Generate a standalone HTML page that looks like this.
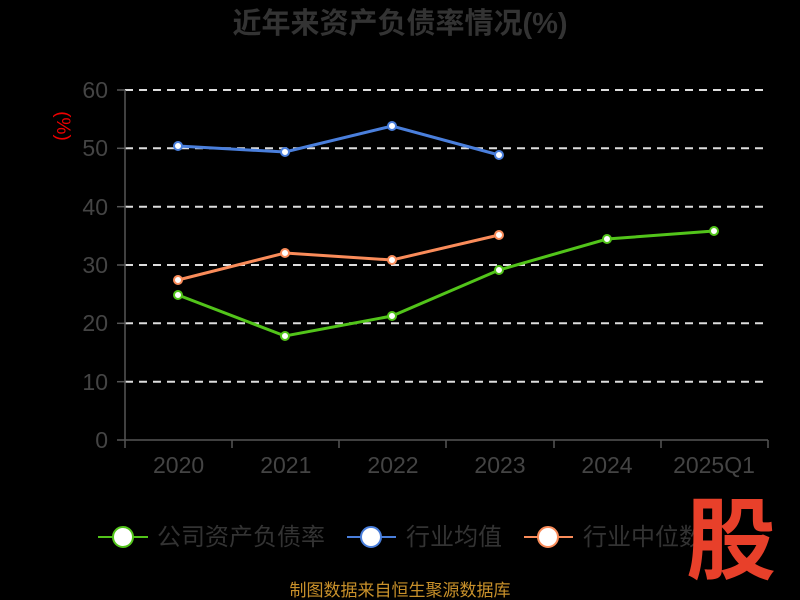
<!DOCTYPE html>
<html><head><meta charset="utf-8"><style>
html,body{margin:0;padding:0;background:#000;width:800px;height:600px;overflow:hidden}
svg{display:block}
text{font-family:"Liberation Sans","Noto Sans CJK SC",sans-serif}
</style></head><body>
<svg width="800" height="600" viewBox="0 0 800 600">
<text x="400" y="33" text-anchor="middle" font-size="29" font-weight="bold" fill="#333">近年来资产负债率情况(%)</text>
<text transform="translate(57,126) rotate(90)" text-anchor="middle" font-size="19" fill="#e00">(%)</text>
<g stroke="#ddd" stroke-width="2" stroke-dasharray="8,6">
<line x1="125" y1="90" x2="768" y2="90"/><line x1="125" y1="148.3" x2="768" y2="148.3"/>
<line x1="125" y1="206.7" x2="768" y2="206.7"/><line x1="125" y1="265" x2="768" y2="265"/>
<line x1="125" y1="323.3" x2="768" y2="323.3"/><line x1="125" y1="381.7" x2="768" y2="381.7"/>
</g>
<g stroke="#555" stroke-width="1.5">
<line x1="125" y1="90" x2="125" y2="440"/><line x1="125" y1="440" x2="768" y2="440"/>
<line x1="117" y1="90" x2="125" y2="90"/><line x1="117" y1="148.3" x2="125" y2="148.3"/><line x1="117" y1="206.7" x2="125" y2="206.7"/><line x1="117" y1="265" x2="125" y2="265"/><line x1="117" y1="323.3" x2="125" y2="323.3"/><line x1="117" y1="381.7" x2="125" y2="381.7"/><line x1="117" y1="440" x2="125" y2="440"/>
<line x1="125" y1="440" x2="125" y2="448"/><line x1="232" y1="440" x2="232" y2="448"/><line x1="339" y1="440" x2="339" y2="448"/><line x1="446" y1="440" x2="446" y2="448"/><line x1="554" y1="440" x2="554" y2="448"/><line x1="661" y1="440" x2="661" y2="448"/><line x1="768" y1="440" x2="768" y2="448"/>
</g>
<g font-size="23" fill="#444" text-anchor="end">
<text x="108" y="98">60</text><text x="108" y="156">50</text><text x="108" y="215">40</text><text x="108" y="273">30</text><text x="108" y="331">20</text><text x="108" y="390">10</text><text x="108" y="448">0</text>
</g>
<g font-size="23" fill="#444" text-anchor="middle">
<text x="178.6" y="473">2020</text><text x="285.8" y="473">2021</text><text x="393" y="473">2022</text><text x="500" y="473">2023</text><text x="607" y="473">2024</text><text x="714" y="473">2025Q1</text>
</g>
<polyline fill="none" stroke="#4a7fdc" stroke-width="3" points="178,146 285,152 392,126 499,155"/>
<polyline fill="none" stroke="#fa8c5a" stroke-width="3" points="178,280 285,253 392,260 499,235"/>
<polyline fill="none" stroke="#52c41a" stroke-width="3" points="178,295 285,336 392,316 499,270 607,239 714,231"/>
<g fill="#fff" stroke-width="2">
<g stroke="#4a7fdc"><circle cx="178" cy="146" r="4"/><circle cx="285" cy="152" r="4"/><circle cx="392" cy="126" r="4"/><circle cx="499" cy="155" r="4"/></g>
<g stroke="#fa8c5a"><circle cx="178" cy="280" r="4"/><circle cx="285" cy="253" r="4"/><circle cx="392" cy="260" r="4"/><circle cx="499" cy="235" r="4"/></g>
<g stroke="#52c41a"><circle cx="178" cy="295" r="4"/><circle cx="285" cy="336" r="4"/><circle cx="392" cy="316" r="4"/><circle cx="499" cy="270" r="4"/><circle cx="607" cy="239" r="4"/><circle cx="714" cy="231" r="4"/></g>
</g>
<g stroke-width="2">
<line x1="98" y1="537" x2="148" y2="537" stroke="#52c41a"/><circle cx="123" cy="537" r="10" fill="#fff" stroke="#52c41a"/>
<line x1="347" y1="537" x2="396" y2="537" stroke="#4a7fdc"/><circle cx="371" cy="537" r="10" fill="#fff" stroke="#4a7fdc"/>
<line x1="524" y1="537" x2="573" y2="537" stroke="#fa8c5a"/><circle cx="548" cy="537" r="10" fill="#fff" stroke="#fa8c5a"/>
</g>
<g font-size="24" fill="#333">
<text x="157" y="545">公司资产负债率</text><text x="406" y="545">行业均值</text><text x="583" y="545">行业中位数</text>
</g>
<text x="686" y="572" font-size="90" font-weight="bold" fill="#e8402a">股</text>
<text x="400" y="596" text-anchor="middle" font-size="17" fill="#c8902a">制图数据来自恒生聚源数据库</text>
</svg>
</body></html>
